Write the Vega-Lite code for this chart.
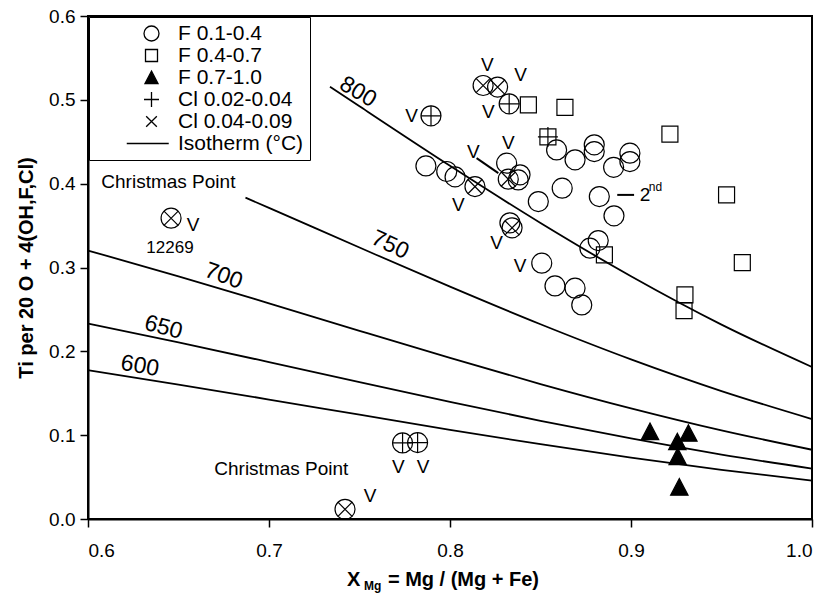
{
  "$schema": "https://vega.github.io/schema/vega-lite/v6.json",
  "width": 724,
  "height": 503,
  "autosize": {"type": "none"},
  "padding": {"left": 88, "top": 16, "right": 13, "bottom": 77},
  "background": "white",
  "config": {
    "view": {"stroke": "black", "strokeWidth": 2},
    "font": "Liberation Sans",
    "text": {"font": "Liberation Sans", "color": "black"}
  },
  "datasets": {
    "iso": [
      {"T": 800, "x": 0.7337, "y": 0.5157}, {"T": 800, "x": 0.75, "y": 0.4923}, {"T": 800, "x": 0.8, "y": 0.4213}, {"T": 800, "x": 0.85, "y": 0.3531}, {"T": 800, "x": 0.9, "y": 0.2896}, {"T": 800, "x": 0.95, "y": 0.2319}, {"T": 800, "x": 1.0, "y": 0.1813},
      {"T": 750, "x": 0.687, "y": 0.3833}, {"T": 750, "x": 0.7, "y": 0.3711}, {"T": 750, "x": 0.75, "y": 0.3238}, {"T": 750, "x": 0.8, "y": 0.2771}, {"T": 750, "x": 0.85, "y": 0.2323}, {"T": 750, "x": 0.9, "y": 0.1904}, {"T": 750, "x": 0.95, "y": 0.1526}, {"T": 750, "x": 1.0, "y": 0.1192},
      {"T": 700, "x": 0.6, "y": 0.3203}, {"T": 700, "x": 0.65, "y": 0.2895}, {"T": 700, "x": 0.7, "y": 0.2572}, {"T": 700, "x": 0.75, "y": 0.2244}, {"T": 700, "x": 0.8, "y": 0.1921}, {"T": 700, "x": 0.85, "y": 0.1610}, {"T": 700, "x": 0.9, "y": 0.1320}, {"T": 700, "x": 0.95, "y": 0.1057}, {"T": 700, "x": 1.0, "y": 0.0826},
      {"T": 650, "x": 0.6, "y": 0.2331}, {"T": 650, "x": 0.65, "y": 0.2107}, {"T": 650, "x": 0.7, "y": 0.1872}, {"T": 650, "x": 0.75, "y": 0.1633}, {"T": 650, "x": 0.8, "y": 0.1398}, {"T": 650, "x": 0.85, "y": 0.1171}, {"T": 650, "x": 0.9, "y": 0.0961}, {"T": 650, "x": 0.95, "y": 0.0769}, {"T": 650, "x": 1.0, "y": 0.0601},
      {"T": 600, "x": 0.6, "y": 0.1775}, {"T": 600, "x": 0.65, "y": 0.1604}, {"T": 600, "x": 0.7, "y": 0.1425}, {"T": 600, "x": 0.75, "y": 0.1244}, {"T": 600, "x": 0.8, "y": 0.1064}, {"T": 600, "x": 0.85, "y": 0.0892}, {"T": 600, "x": 0.9, "y": 0.0731}, {"T": 600, "x": 0.95, "y": 0.0586}, {"T": 600, "x": 1.0, "y": 0.0458}
    ],
    "pts": [
      {"cat": "F 0.1-0.4", "x": 0.7867, "y": 0.4212}, {"cat": "F 0.1-0.4", "x": 0.7982, "y": 0.4145}, {"cat": "F 0.1-0.4", "x": 0.8028, "y": 0.4081}, {"cat": "F 0.1-0.4", "x": 0.8138, "y": 0.3965},
      {"cat": "F 0.1-0.4", "x": 0.8313, "y": 0.4245}, {"cat": "F 0.1-0.4", "x": 0.8387, "y": 0.4105}, {"cat": "F 0.1-0.4", "x": 0.8322, "y": 0.4054}, {"cat": "F 0.1-0.4", "x": 0.8377, "y": 0.4045},
      {"cat": "F 0.1-0.4", "x": 0.8488, "y": 0.3786}, {"cat": "F 0.1-0.4", "x": 0.8331, "y": 0.3533}, {"cat": "F 0.1-0.4", "x": 0.8343, "y": 0.3473}, {"cat": "F 0.1-0.4", "x": 0.8507, "y": 0.3051},
      {"cat": "F 0.1-0.4", "x": 0.8589, "y": 0.4403}, {"cat": "F 0.1-0.4", "x": 0.8691, "y": 0.4284}, {"cat": "F 0.1-0.4", "x": 0.8797, "y": 0.4463}, {"cat": "F 0.1-0.4", "x": 0.8797, "y": 0.4383},
      {"cat": "F 0.1-0.4", "x": 0.8994, "y": 0.4364}, {"cat": "F 0.1-0.4", "x": 0.8994, "y": 0.4264}, {"cat": "F 0.1-0.4", "x": 0.8904, "y": 0.4195}, {"cat": "F 0.1-0.4", "x": 0.8620, "y": 0.3946},
      {"cat": "F 0.1-0.4", "x": 0.8825, "y": 0.3846}, {"cat": "F 0.1-0.4", "x": 0.8906, "y": 0.3616}, {"cat": "F 0.1-0.4", "x": 0.8819, "y": 0.3321}, {"cat": "F 0.1-0.4", "x": 0.8773, "y": 0.3230},
      {"cat": "F 0.1-0.4", "x": 0.8580, "y": 0.2780}, {"cat": "F 0.1-0.4", "x": 0.8691, "y": 0.2753}, {"cat": "F 0.1-0.4", "x": 0.8728, "y": 0.2554},
      {"cat": "F 0.1-0.4", "x": 0.7895, "y": 0.4809}, {"cat": "F 0.1-0.4", "x": 0.8327, "y": 0.4952}, {"cat": "F 0.1-0.4", "x": 0.7738, "y": 0.0907}, {"cat": "F 0.1-0.4", "x": 0.7821, "y": 0.0911},
      {"cat": "F 0.1-0.4", "x": 0.8183, "y": 0.5171}, {"cat": "F 0.1-0.4", "x": 0.8263, "y": 0.5152}, {"cat": "F 0.1-0.4", "x": 0.6459, "y": 0.3588}, {"cat": "F 0.1-0.4", "x": 0.7420, "y": 0.0116},
      {"cat": "F 0.4-0.7", "x": 0.8433, "y": 0.4940}, {"cat": "F 0.4-0.7", "x": 0.8635, "y": 0.4911}, {"cat": "F 0.4-0.7", "x": 0.8541, "y": 0.4558}, {"cat": "F 0.4-0.7", "x": 0.9215, "y": 0.4591},
      {"cat": "F 0.4-0.7", "x": 0.9528, "y": 0.3866}, {"cat": "F 0.4-0.7", "x": 0.8853, "y": 0.3150}, {"cat": "F 0.4-0.7", "x": 0.9615, "y": 0.3059}, {"cat": "F 0.4-0.7", "x": 0.9298, "y": 0.2673},
      {"cat": "F 0.4-0.7", "x": 0.9293, "y": 0.2486},
      {"cat": "F 0.7-1.0", "x": 0.9105, "y": 0.1042}, {"cat": "F 0.7-1.0", "x": 0.9317, "y": 0.1023}, {"cat": "F 0.7-1.0", "x": 0.9256, "y": 0.0922}, {"cat": "F 0.7-1.0", "x": 0.9258, "y": 0.0744},
      {"cat": "F 0.7-1.0", "x": 0.9267, "y": 0.0380},
      {"cat": "Cl 0.02-0.04", "x": 0.7895, "y": 0.4809}, {"cat": "Cl 0.02-0.04", "x": 0.8327, "y": 0.4952}, {"cat": "Cl 0.02-0.04", "x": 0.7738, "y": 0.0907}, {"cat": "Cl 0.02-0.04", "x": 0.7821, "y": 0.0911},
      {"cat": "Cl 0.02-0.04", "x": 0.8541, "y": 0.4558},
      {"cat": "Cl 0.04-0.09", "x": 0.8183, "y": 0.5171}, {"cat": "Cl 0.04-0.09", "x": 0.8263, "y": 0.5152}, {"cat": "Cl 0.04-0.09", "x": 0.6459, "y": 0.3588}, {"cat": "Cl 0.04-0.09", "x": 0.7420, "y": 0.0116},
      {"cat": "Cl 0.04-0.09", "x": 0.8138, "y": 0.3965}, {"cat": "Cl 0.04-0.09", "x": 0.8322, "y": 0.4054}, {"cat": "Cl 0.04-0.09", "x": 0.8343, "y": 0.3473}
    ],
    "vlab": [
      {"x": 0.8206, "y": 0.5418, "t": "V"}, {"x": 0.8390, "y": 0.5298, "t": "V"}, {"x": 0.8212, "y": 0.4860, "t": "V"}, {"x": 0.7788, "y": 0.4813, "t": "V"},
      {"x": 0.8129, "y": 0.4383, "t": "V"}, {"x": 0.8322, "y": 0.4483, "t": "V"}, {"x": 0.8046, "y": 0.3747, "t": "V"}, {"x": 0.8258, "y": 0.3290, "t": "V"},
      {"x": 0.8387, "y": 0.3020, "t": "V"}, {"x": 0.6580, "y": 0.3508, "t": "V"}, {"x": 0.7558, "y": 0.0274, "t": "V"}, {"x": 0.7714, "y": 0.0624, "t": "V"},
      {"x": 0.7852, "y": 0.0624, "t": "V"},
      {"x": 0.6444, "y": 0.4021, "t": "Christmas Point"}, {"x": 0.7068, "y": 0.0597, "t": "Christmas Point"},
      {"x": 0.9077, "y": 0.3866, "t": "2"}
    ],
    "small": [{"x": 0.6453, "y": 0.3234, "t": "12269"}],
    "sup": [{"x": 0.9135, "y": 0.3960, "t": "nd"}],
    "isolab": [
      {"T": 800, "x": 0.7492, "y": 0.5095, "t": "800"}, {"T": 750, "x": 0.7669, "y": 0.3270, "t": "750"}, {"T": 700, "x": 0.6749, "y": 0.2900, "t": "700"},
      {"T": 650, "x": 0.6417, "y": 0.2285, "t": "650"}, {"T": 600, "x": 0.6287, "y": 0.1826, "t": "600"}
    ],
    "rules": [
      {"x": 0.8147, "y": 0.4304, "x2": 0.8267, "y2": 0.4125},
      {"x": 0.8924, "y": 0.3866, "x2": 0.9017, "y2": 0.3866}
    ],
    "xt_big": [{"x": 0.7431, "y": -0.0728, "t": "X"}, {"x": 0.7657, "y": -0.0728, "t": "= Mg / (Mg + Fe)"}],
    "xt_sub": [{"x": 0.7525, "y": -0.0805, "t": "Mg"}]
  },
  "encoding": {
    "x": {
      "field": "x", "type": "quantitative",
      "scale": {"domain": [0.6, 1.0], "nice": false, "zero": false},
      "axis": {"values": [0.6, 0.7, 0.8, 0.9, 1.0], "format": ".1f", "title": null, "grid": false,
        "tickSize": 8, "tickWidth": 1.5, "tickColor": "black", "domainColor": "black", "domainWidth": 2,
        "labelFontSize": 19, "labelColor": "black", "labelPadding": 14, "labelFont": "Liberation Sans"}
    },
    "y": {
      "field": "y", "type": "quantitative",
      "scale": {"domain": [0, 0.6], "nice": false, "zero": false},
      "axis": {"values": [0, 0.1, 0.2, 0.3, 0.4, 0.5, 0.6], "format": ".1f", "title": "Ti per 20 O + 4(OH,F,Cl)", "grid": false,
        "tickSize": 8, "tickWidth": 1.5, "tickColor": "black", "domainColor": "black", "domainWidth": 2,
        "labelFontSize": 19, "labelColor": "black", "labelPadding": 5, "labelFont": "Liberation Sans",
        "titleFontSize": 20, "titleFontWeight": "bold", "titleColor": "black", "titleFont": "Liberation Sans", "titlePadding": 12}
    }
  },
  "layer": [
    {
      "data": {"name": "iso"},
      "mark": {"type": "line", "color": "black", "strokeWidth": 1.8, "interpolate": "monotone"},
      "encoding": {"detail": {"field": "T", "type": "nominal"}}
    },
    {
      "data": {"name": "rules"},
      "mark": {"type": "rule", "color": "black", "strokeWidth": 2},
      "encoding": {"x2": {"field": "x2"}, "y2": {"field": "y2"}}
    },
    {
      "data": {"name": "pts"},
      "mark": {"type": "point", "filled": true, "stroke": "black", "strokeWidth": 1.2, "opacity": 1, "fillOpacity": 1, "strokeOpacity": 1, "size": 400},
      "encoding": {
        "shape": {
          "field": "cat", "type": "nominal",
          "scale": {
            "domain": ["F 0.1-0.4", "F 0.4-0.7", "F 0.7-1.0", "Cl 0.02-0.04", "Cl 0.04-0.09", "Isotherm (°C)"],
            "range": ["circle", "M-0.8,-0.8H0.8V0.8H-0.8Z", "M0,-0.85L0.87,0.8L-0.87,0.8Z", "M-1,0H1M0,-1V1", "M-0.71,-0.71L0.71,0.71M-0.71,0.71L0.71,-0.71", "M-3.3,0H2.3"]
          },
          "legend": {
            "title": null, "orient": "top-left", "offset": 1, "padding": 6, "rowPadding": 0,
            "symbolOffset": 46, "labelOffset": 16, "symbolSize": 225, "symbolStrokeColor": "black", "symbolStrokeWidth": 1.3,
            "labelFontSize": 21, "labelFont": "Liberation Sans", "labelColor": "black", "labelLimit": 300,
            "strokeColor": "black", "fillColor": "white"
          }
        },
        "color": {
          "field": "cat", "type": "nominal",
          "scale": {
            "domain": ["F 0.1-0.4", "F 0.4-0.7", "F 0.7-1.0", "Cl 0.02-0.04", "Cl 0.04-0.09", "Isotherm (°C)"],
            "range": ["transparent", "transparent", "black", "transparent", "transparent", "transparent"]
          },
          "legend": {
            "title": null, "orient": "top-left", "offset": 1, "padding": 6, "rowPadding": 0,
            "symbolOffset": 46, "labelOffset": 16, "symbolSize": 225, "symbolStrokeColor": "black", "symbolStrokeWidth": 1.3,
            "labelFontSize": 21, "labelFont": "Liberation Sans", "labelColor": "black", "labelLimit": 300,
            "strokeColor": "black", "fillColor": "white"
          }
        }
      }
    },
    {
      "data": {"name": "vlab"},
      "mark": {"type": "text", "fontSize": 19, "font": "Liberation Sans", "color": "black"},
      "encoding": {"text": {"field": "t"}}
    },
    {
      "data": {"name": "small"},
      "mark": {"type": "text", "fontSize": 17, "font": "Liberation Sans", "color": "black"},
      "encoding": {"text": {"field": "t"}}
    },
    {
      "data": {"name": "sup"},
      "mark": {"type": "text", "fontSize": 12, "font": "Liberation Sans", "color": "black"},
      "encoding": {"text": {"field": "t"}}
    },
    {
      "data": {"name": "isolab"},
      "mark": {"type": "text", "fontSize": 23, "font": "Liberation Sans", "color": "black"},
      "encoding": {
        "text": {"field": "t"},
        "angle": {"field": "T", "type": "quantitative", "scale": {"domain": [600, 800], "range": [10, 30]}, "legend": null}
      }
    },
    {
      "data": {"name": "xt_big"},
      "mark": {"type": "text", "fontSize": 20, "fontWeight": "bold", "font": "Liberation Sans", "color": "black", "align": "left"},
      "encoding": {"text": {"field": "t"}}
    },
    {
      "data": {"name": "xt_sub"},
      "mark": {"type": "text", "fontSize": 12, "fontWeight": "bold", "font": "Liberation Sans", "color": "black", "align": "left"},
      "encoding": {"text": {"field": "t"}}
    }
  ]
}
